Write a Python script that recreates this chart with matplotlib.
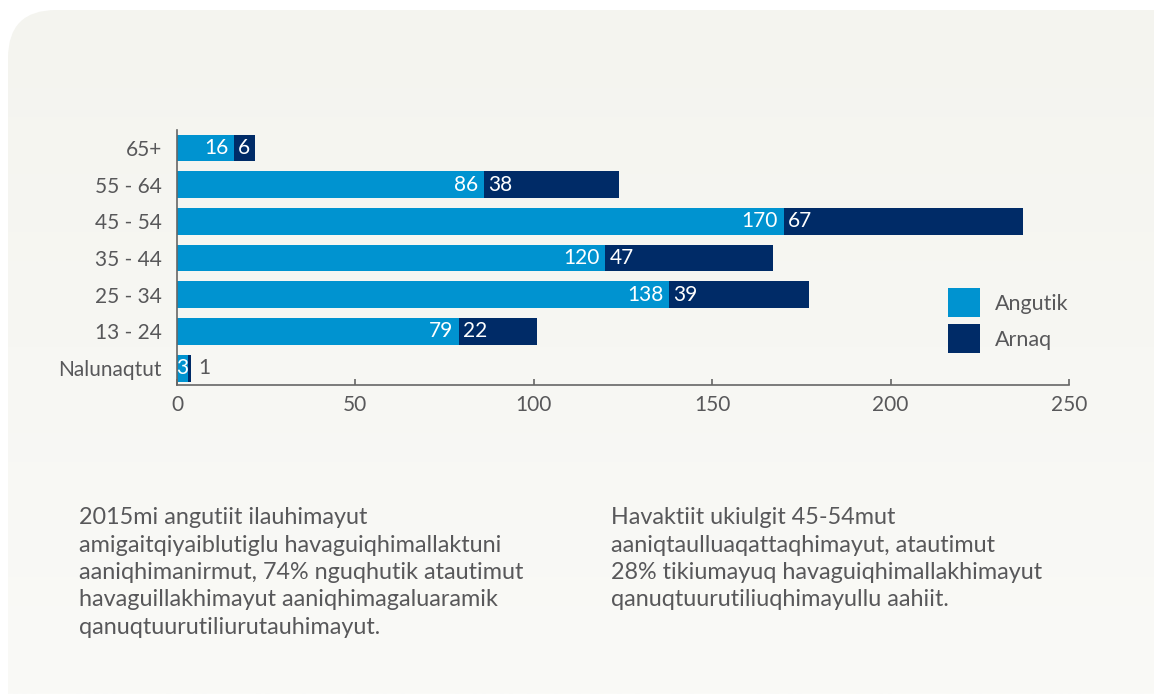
import numpy as np
import matplotlib.pyplot as plt
from matplotlib.patches import FancyBboxPatch, Patch

# data
groups = ['Nalunaqtut', '13 - 24', '25 - 34', '35 - 44', '45 - 54', '55 - 64', '65+']
angutik = [3, 79, 138, 120, 170, 86, 16]
arnaq = [1, 22, 39, 47, 67, 38, 6]
xticks = [0, 50, 100, 150, 200, 250]

note_left = ["2015mi angutiit ilauhimayut",
             "amigaitqiyaiblutiglu havaguiqhimallaktuni",
             "aaniqhimanirmut, 74% nguqhutik atautimut",
             "havaguillakhimayut aaniqhimagaluaramik",
             "qanuqtuurutiliurutauhimayut."]
note_right = ["Havaktiit ukiulgit 45-54mut",
              "aaniqtaulluaqattaqhimayut, atautimut",
              "28% tikiumayuq havaguiqhimallakhimayut",
              "qanuqtuurutiliuqhimayullu aahiit."]

light = '#0093d0'
dark = '#002b67'
grey = '#58585a'

plt.rcParams['font.family'] = ['Lato', 'DejaVu Sans']

W, H = 1154, 694
fig = plt.figure(figsize=(W / 100, H / 100), dpi=100)
fig.patch.set_facecolor('white')

# rounded panel behind everything, in pixel coords
bg = fig.add_axes([0, 0, 1, 1], zorder=-1)
bg.set_xlim(0, W)
bg.set_ylim(H, 0)
bg.axis('off')
panel = FancyBboxPatch((8, 10), 1200, 760, boxstyle='round,pad=0,rounding_size=48',
                       facecolor='none', edgecolor='none')
bg.add_patch(panel)
grad = np.linspace(0, 1, 256).reshape(-1, 1)
top = np.array([244, 244, 239]) / 255
bot = np.array([250, 250, 247]) / 255
img = top + (bot - top) * grad[:, :, None]
im = bg.imshow(img, extent=(0, W, H, 0), aspect='auto', interpolation='bilinear')
im.set_clip_path(panel)

# main chart
ax = fig.add_axes([177 / W, 1 - 385 / H, 892 / W, 255 / H])
ax.patch.set_visible(False)
y = np.arange(len(groups))
ax.barh(y, angutik, height=0.73, color=light, label='Angutik')
ax.barh(y, arnaq, height=0.73, left=angutik, color=dark, label='Arnaq')

fs = 15
for i in range(len(groups)):
    a, b = angutik[i], arnaq[i]
    if a < 5:
        ax.text(a / 2, i, str(a), ha='center', va='center', color='white', fontsize=fs)
    else:
        ax.annotate(str(a), (a, i), xytext=(-4, 0), textcoords='offset points',
                    ha='right', va='center', color='white', fontsize=fs)
    if b < 3:
        ax.annotate(str(b), (a + b, i), xytext=(5, 0), textcoords='offset points',
                    ha='left', va='center', color=grey, fontsize=fs)
    else:
        ax.annotate(str(b), (a, i), xytext=(3, 0), textcoords='offset points',
                    ha='left', va='center', color='white', fontsize=fs)

ax.set_xlim(0, 250)
ax.set_ylim(-0.46, 6.49)
ax.set_xticks(xticks)
ax.set_yticks(y)
ax.set_yticklabels(groups)
ax.tick_params(axis='x', direction='in', length=4, width=1.2, color='#666666',
               labelcolor=grey, labelsize=fs, pad=7)
ax.tick_params(axis='y', length=0, labelcolor=grey, labelsize=fs, pad=11)
for s in ['top', 'right']:
    ax.spines[s].set_visible(False)
for s in ['left', 'bottom']:
    ax.spines[s].set_color('#666666')
    ax.spines[s].set_linewidth(1.2)

handles = [Patch(facecolor=light), Patch(facecolor=dark)]
fig.legend(handles, ['Angutik', 'Arnaq'], loc='upper left',
           bbox_to_anchor=(948 / W, 1 - 288 / H), frameon=False, fontsize=15.5,
           labelcolor=grey, handlelength=1.49, handleheight=1.7, handletextpad=0.7,
           labelspacing=0.33, borderpad=0, borderaxespad=0)

# notes under the chart
for k, line in enumerate(note_left):
    fig.text(79 / W, 1 - (524 + 27.5 * k) / H, line, color=grey, fontsize=16.8,
             ha='left', va='baseline')
for k, line in enumerate(note_right):
    fig.text(611 / W, 1 - (524 + 27.5 * k) / H, line, color=grey, fontsize=16.8,
             ha='left', va='baseline')

fig.savefig('out.png', dpi=100)
